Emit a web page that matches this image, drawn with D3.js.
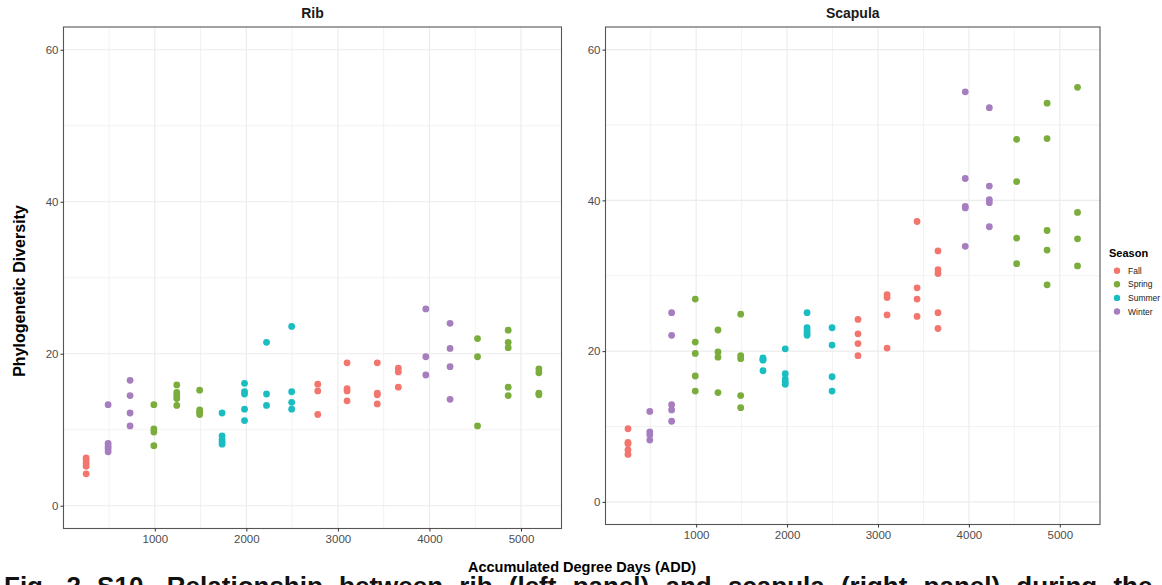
<!DOCTYPE html>
<html>
<head>
<meta charset="utf-8">
<script src="https://cdn.jsdelivr.net/npm/d3@7"></script>
<style>
  html, body { margin: 0; padding: 0; background: #fff; overflow: hidden; }
  svg { display: block; font-family: "Liberation Sans", Arial, Helvetica, sans-serif; }
</style>
</head>
<body>
<svg id="chart" width="1162" height="585"></svg>
<script>
// Sampling points (accumulated degree days) and the season each one fell in
const addDays = [250, 490, 730, 990, 1240, 1490, 1735, 1980, 2220, 2495, 2780, 3100, 3430, 3660, 3960, 4225, 4525, 4860, 5195];
const addSeason = ["Fall", "Winter", "Winter", "Spring", "Spring", "Spring", "Summer", "Summer", "Summer", "Summer",
                   "Fall", "Fall", "Fall", "Fall", "Winter", "Winter", "Spring", "Spring", "Spring"];

// Phylogenetic diversity per sample, one list per sampling point
const ribDiversity = [
  [6.3, 6.0, 5.6, 5.2, 4.2],
  [13.3, 8.2, 7.8, 7.5, 7.1],
  [16.5, 14.5, 12.2, 10.5],
  [13.3, 10.1, 9.7, 7.9],
  [15.9, 14.9, 14.5, 14.1, 13.2],
  [15.2, 12.6, 12.3, 12.0],
  [12.2, 9.2, 8.7, 8.4, 8.1],
  [16.1, 15.0, 14.7, 12.7, 11.2],
  [21.5, 14.7, 13.2],
  [23.6, 15.0, 13.6, 12.7],
  [16.0, 15.1, 12.0],
  [18.8, 15.4, 15.1, 13.8],
  [18.8, 14.8, 14.6, 13.4],
  [18.1, 17.6, 15.6],
  [25.9, 19.6, 17.2],
  [24.0, 20.7, 18.3, 14.0],
  [22.0, 19.6, 10.5],
  [23.1, 21.5, 20.8, 15.6, 14.5],
  [18.0, 17.5, 14.8, 14.6]
];
const scapulaDiversity = [
  [9.7, 7.9, 7.7, 6.9, 6.3],
  [12.0, 9.3, 8.9, 8.2],
  [25.1, 22.1, 12.9, 12.2, 10.7],
  [26.9, 21.2, 19.7, 16.7, 14.7],
  [22.8, 19.9, 19.2, 14.5],
  [24.9, 19.4, 19.0, 14.1, 12.5],
  [19.1, 18.9, 18.8, 17.4],
  [20.3, 17.0, 16.3, 15.9, 15.6],
  [25.1, 23.1, 22.7, 22.4, 22.1],
  [23.1, 20.8, 16.6, 14.7],
  [24.2, 22.3, 21.0, 19.4],
  [27.5, 27.1, 24.8, 20.4],
  [37.2, 28.4, 26.9, 24.6],
  [33.3, 30.8, 30.3, 25.1, 23.0],
  [54.4, 42.9, 39.2, 39.0, 33.9],
  [52.3, 41.9, 40.1, 39.7, 36.5],
  [48.1, 42.5, 35.0, 31.6],
  [52.9, 48.2, 36.0, 33.4, 28.8],
  [55.0, 38.4, 34.9, 31.3]
];

const seasons = ["Fall", "Spring", "Summer", "Winter"];
const seasonColors = ["#F3766E", "#7AAD3C", "#1ABDC2", "#A67DBE"];

const xMajorTicks = [1000, 2000, 3000, 4000, 5000];
const xMinorTicks = [500, 1500, 2500, 3500, 4500];
const yMajorTicks = [0, 20, 40, 60];
const yMinorTicks = [10, 30, 50];
const yLimits = [0, 60];

const svg = d3.select("#chart");
const color = d3.scaleOrdinal().domain(seasons).range(seasonColors);

// ggplot-style 5% padding around the data range
function expand(lo, hi) { const p = (hi - lo) * 0.05; return [lo - p, hi + p]; }
const xDomain = expand(d3.min(addDays), d3.max(addDays));
const yDomain = expand(yLimits[0], yLimits[1]);

const panels = [
  { title: "Rib", values: ribDiversity, left: 63.5, right: 561.5, top: 27, bottom: 528.5 },
  { title: "Scapula", values: scapulaDiversity, left: 605.5, right: 1100, top: 27, bottom: 524.5 }
];

panels.forEach(p => {
  const x = d3.scaleLinear().domain(xDomain).range([p.left, p.right]);
  const y = d3.scaleLinear().domain(yDomain).range([p.bottom, p.top]);
  const g = svg.append("g");

  // grid
  g.selectAll(".xminor").data(xMinorTicks).join("line")
    .attr("x1", d => x(d)).attr("x2", d => x(d)).attr("y1", p.top).attr("y2", p.bottom)
    .attr("stroke", "#EFEFEF").attr("stroke-width", 0.8);
  g.selectAll(".yminor").data(yMinorTicks).join("line")
    .attr("y1", d => y(d)).attr("y2", d => y(d)).attr("x1", p.left).attr("x2", p.right)
    .attr("stroke", "#EFEFEF").attr("stroke-width", 0.8);
  g.selectAll(".xmajor").data(xMajorTicks).join("line")
    .attr("x1", d => x(d)).attr("x2", d => x(d)).attr("y1", p.top).attr("y2", p.bottom)
    .attr("stroke", "#EBEBEB").attr("stroke-width", 1.1);
  g.selectAll(".ymajor").data(yMajorTicks).join("line")
    .attr("y1", d => y(d)).attr("y2", d => y(d)).attr("x1", p.left).attr("x2", p.right)
    .attr("stroke", "#EBEBEB").attr("stroke-width", 1.1);

  // points
  const pts = [];
  addDays.forEach((a, i) => p.values[i].forEach(v => pts.push({ add: a, season: addSeason[i], pd: v })));
  g.selectAll("circle").data(pts).join("circle")
    .attr("cx", d => x(d.add)).attr("cy", d => y(d.pd)).attr("r", 3.4)
    .attr("fill", d => color(d.season));

  // frame
  g.append("rect").attr("x", p.left).attr("y", p.top)
    .attr("width", p.right - p.left).attr("height", p.bottom - p.top)
    .attr("fill", "none").attr("stroke", "#555").attr("stroke-width", 1.1);

  // axes
  const xAxis = d3.axisBottom(x).tickValues(xMajorTicks).tickSize(3).tickPadding(3).tickFormat(d3.format("d"));
  const yAxis = d3.axisLeft(y).tickValues(yMajorTicks).tickSize(3).tickPadding(2).tickFormat(d3.format("d"));
  const xa = g.append("g").attr("transform", `translate(0,${p.bottom})`).call(xAxis);
  const ya = g.append("g").attr("transform", `translate(${p.left},0)`).call(yAxis);
  [xa, ya].forEach(a => {
    a.select(".domain").remove();
    a.selectAll(".tick line").attr("stroke", "#333");
    a.selectAll(".tick text").attr("fill", "#4D4D4D").style("font-size", "11.5px")
      .style("font-family", "'Liberation Sans', Arial, sans-serif");
  });

  // facet title
  g.append("text").attr("x", (p.left + p.right) / 2).attr("y", 18)
    .attr("text-anchor", "middle").style("font-size", "14px").style("font-weight", "bold")
    .attr("fill", "#1A1A1A").text(p.title);
});

// axis titles
svg.append("text").attr("x", 582).attr("y", 572).attr("text-anchor", "middle")
  .style("font-size", "14.5px").style("font-weight", "bold").attr("fill", "#000")
  .text("Accumulated Degree Days (ADD)");
svg.append("text").attr("transform", "translate(25,291) rotate(-90)").attr("text-anchor", "middle")
  .style("font-size", "16px").style("font-weight", "bold").attr("fill", "#000")
  .text("Phylogenetic Diversity");

// legend
const lg = svg.append("g").attr("transform", "translate(1109,0)");
lg.append("text").attr("x", 0).attr("y", 257).style("font-size", "11px").style("font-weight", "bold")
  .attr("fill", "#000").text("Season");
lg.selectAll("circle").data(seasons).join("circle")
  .attr("cx", 8).attr("cy", (d, i) => 270.7 + i * 13.6).attr("r", 3.2).attr("fill", d => color(d));
lg.selectAll(".lab").data(seasons).join("text")
  .attr("x", 19).attr("y", (d, i) => 273.7 + i * 13.6).style("font-size", "8.5px").attr("fill", "#1A1A1A")
  .text(d => d);

// figure caption (justified line) running off the bottom edge
svg.append("text").attr("x", 4).attr("y", 595).style("font-size", "26px").style("font-weight", "bold")
  .style("word-spacing", "9px").attr("fill", "#111")
  .text("Fig. 2 S10. Relationship between rib (left panel) and scapula (right panel) during the");
</script>
</body>
</html>
